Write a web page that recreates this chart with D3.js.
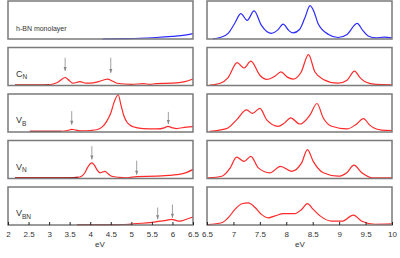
<!DOCTYPE html>
<html>
<head>
<meta charset="utf-8">
<script src="https://cdn.jsdelivr.net/npm/d3@7"></script>
<style>
  body { margin: 0; background: #fff; }
  svg { display: block; font-family: "Liberation Sans", Arial, sans-serif; }
</style>
</head>
<body>
<div id="chart"></div>
<script>
// panel names, top to bottom
const names = ["h-BN monolayer", "C", "V", "V", "V"];
const subs = ["", "N", "B", "N", "BN"];
const colors = ["#2b2bff", "#ff2a2a", "#ff2a2a", "#ff2a2a", "#ff2a2a"];
// the flat start of each low-energy curve is drawn darker, up to this eV
const darkUntil = [0, 3.0, 3.3, 3.7, 5.0];

// left side spectra [eV, relative intensity]
const lowHBN = [[4.3,0],[4.8,0.01],[5.2,0.02],[5.6,0.04],[6.0,0.07],[6.3,0.1],[6.5,0.14]];
const lowCN = [[2.17,0.01],[2.8,0.01],[3.0,0.02],[3.2,0.08],[3.39,0.21],[3.5,0.12],[3.58,0.06],[3.75,0.1],[3.9,0.06],[4.0,0.06],[4.2,0.1],[4.42,0.17],[4.55,0.11],[4.65,0.06],[5.0,0.03],[5.3,0.05],[5.45,0.03],[5.6,0.05],[6.0,0.06],[6.3,0.1],[6.5,0.17]];
const lowVB = [[2.53,0.02],[3.3,0.02],[3.45,0.04],[3.55,0.07],[3.65,0.05],[3.79,0.03],[4.0,0.04],[4.16,0.06],[4.3,0.14],[4.4,0.28],[4.5,0.5],[4.58,0.78],[4.68,0.98],[4.75,0.7],[4.82,0.42],[4.9,0.25],[4.97,0.18],[5.1,0.12],[5.29,0.09],[5.62,0.08],[5.8,0.11],[5.89,0.15],[6.0,0.11],[6.1,0.09],[6.34,0.13],[6.5,0.14]];
const lowVN = [[2.17,0.02],[3.5,0.02],[3.7,0.03],[3.79,0.06],[3.87,0.15],[3.93,0.28],[4.04,0.41],[4.1,0.35],[4.16,0.24],[4.24,0.15],[4.36,0.19],[4.44,0.12],[4.52,0.06],[4.7,0.03],[4.89,0.02],[5.13,0.05],[5.62,0.06],[5.9,0.08],[6.1,0.1],[6.35,0.16],[6.5,0.24]];
const lowVBN = [[3.68,0.01],[4.6,0.01],[5.0,0.02],[5.05,0.03],[5.45,0.06],[5.7,0.1],[5.85,0.12],[5.98,0.15],[6.08,0.12],[6.18,0.1],[6.34,0.15],[6.5,0.21]];

// right side spectra
const highHBN = [[6.61,0],[6.75,0.04],[6.9,0.15],[7.02,0.4],[7.14,0.67],[7.26,0.49],[7.39,0.74],[7.53,0.36],[7.63,0.2],[7.72,0.15],[7.84,0.24],[7.94,0.39],[8.05,0.22],[8.13,0.16],[8.25,0.25],[8.35,0.55],[8.45,0.88],[8.53,0.7],[8.6,0.41],[8.8,0.12],[8.98,0.04],[9.15,0.12],[9.34,0.41],[9.45,0.22],[9.55,0.08],[9.7,0.03],[9.85,0.05],[10,0.03]];
const highCN = [[6.55,0.01],[6.75,0.06],[6.9,0.21],[7.07,0.6],[7.2,0.46],[7.33,0.64],[7.5,0.27],[7.63,0.16],[7.78,0.24],[7.9,0.36],[8.02,0.22],[8.13,0.17],[8.28,0.35],[8.42,0.81],[8.54,0.36],[8.7,0.16],[8.98,0.06],[9.15,0.14],[9.29,0.38],[9.4,0.2],[9.49,0.1],[9.7,0.03],[10,0.02]];
const highVB = [[6.55,0.02],[6.87,0.09],[7.06,0.32],[7.25,0.58],[7.36,0.49],[7.5,0.62],[7.63,0.32],[7.85,0.15],[7.97,0.24],[8.08,0.37],[8.26,0.21],[8.45,0.45],[8.58,0.75],[8.7,0.37],[8.86,0.15],[9.15,0.08],[9.32,0.2],[9.46,0.35],[9.58,0.18],[9.65,0.11],[9.8,0.05],[10,0.04]];
const highVN = [[6.52,0.02],[6.78,0.06],[6.94,0.28],[7.06,0.56],[7.2,0.45],[7.33,0.58],[7.47,0.28],[7.69,0.15],[7.89,0.32],[8.1,0.19],[8.29,0.41],[8.4,0.76],[8.51,0.45],[8.7,0.15],[8.98,0.06],[9.15,0.16],[9.28,0.35],[9.43,0.15],[9.62,0.02],[10,0.02]];
const highVBN = [[6.52,0.01],[6.78,0.06],[6.9,0.19],[7.03,0.41],[7.16,0.56],[7.28,0.58],[7.41,0.46],[7.53,0.28],[7.66,0.19],[7.79,0.24],[7.94,0.3],[8.16,0.3],[8.29,0.41],[8.4,0.56],[8.51,0.41],[8.64,0.24],[8.86,0.1],[9.05,0.1],[9.27,0.26],[9.43,0.1],[9.68,0.02],[10,0.03]];

const lowData = [lowHBN, lowCN, lowVB, lowVN, lowVBN];
const highData = [highHBN, highCN, highVB, highVN, highVBN];

// arrows marking features: [eV, top, bottom] in relative intensity
const arrows = [
  [],
  [[3.39, 0.73, 0.38], [4.5, 0.73, 0.33]],
  [[3.55, 0.55, 0.19], [5.9, 0.53, 0.21]],
  [[4.04, 0.85, 0.5], [5.13, 0.47, 0.1]],
  [[5.64, 0.46, 0.15], [6.0, 0.54, 0.19]]
];

const lowTicks = [2, 2.5, 3, 3.5, 4, 4.5, 5, 5.5, 6, 6.5];
const highTicks = [6.5, 7, 7.5, 8, 8.5, 9, 9.5, 10];

const W = 400, H = 258;
const panelH = 38, step = 46.5, top0 = 1;

const svg = d3.select("#chart").append("svg")
    .attr("width", W).attr("height", H);

const xLow = d3.scaleLinear().domain([2, 6.5]).range([8, 193]);
const xHigh = d3.scaleLinear().domain([6.5, 10]).range([207, 392]);

const line = (x, y) => d3.line()
    .x(d => x(d[0])).y(d => y(d[1]))
    .curve(d3.curveMonotoneX);

for (let i = 0; i < 5; i++) {
  const t = top0 + i * step;
  const y = d3.scaleLinear().domain([0, 1]).range([t + panelH, t]);

  [[xLow, lowData[i]], [xHigh, highData[i]]].forEach(([x, data], side) => {
    const g = svg.append("g");
    g.append("path")
      .datum(data)
      .attr("fill", "none")
      .attr("stroke", colors[i])
      .attr("stroke-width", 1.2)
      .attr("d", line(x, y));

    if (side == 0 && darkUntil[i]) {
      g.append("path")
        .datum(data.filter(d => d[0] <= darkUntil[i]))
        .attr("fill", "none")
        .attr("stroke", "#9a1010")
        .attr("stroke-width", 1.2)
        .attr("d", line(x, y));
    }

    g.append("rect")
      .attr("x", x.range()[0]).attr("y", t)
      .attr("width", x.range()[1] - x.range()[0])
      .attr("height", panelH)
      .attr("fill", "none")
      .attr("stroke", "#7a7a7a")
      .attr("stroke-width", 1.5);
  });

  // label
  const lab = svg.append("text")
    .attr("x", 16)
    .attr("y", i == 0 ? t + 30 : t + 29)
    .attr("font-size", i == 0 ? 7 : 9)
    .attr("fill", "#333")
    .text(names[i]);
  if (subs[i]) {
    lab.append("tspan").attr("dy", 2.5).attr("font-size", 6.5).text(subs[i]);
  }

  // arrows
  arrows[i].forEach(a => {
    const ax = xLow(a[0]);
    svg.append("line")
      .attr("x1", ax).attr("x2", ax)
      .attr("y1", y(a[1])).attr("y2", y(a[2]))
      .attr("stroke", "#888").attr("stroke-width", 0.8);
    svg.append("path")
      .attr("d", `M${ax - 1.6},${y(a[2]) - 4}L${ax},${y(a[2])}L${ax + 1.6},${y(a[2]) - 4}Z`)
      .attr("fill", "#888");
  });

  // bottom axes
  if (i == 4) {
    const base = t + panelH;
    [[xLow, lowTicks, 100], [xHigh, highTicks, 300]].forEach(([x, ticks, mid]) => {
      const ax = svg.append("g")
        .attr("transform", `translate(0,${base})`)
        .call(d3.axisBottom(x).tickValues(ticks).tickSize(-3).tickPadding(6)
              .tickFormat(d => d));
      ax.select(".domain").remove();
      ax.selectAll(".tick line").attr("stroke", "#222");
      ax.selectAll(".tick text")
        .attr("font-size", 8)
        .attr("font-family", "Liberation Sans, Arial, sans-serif")
        .attr("fill", "#333");
      svg.append("text")
        .attr("x", mid).attr("y", 247)
        .attr("text-anchor", "middle")
        .attr("font-size", 8)
        .attr("fill", "#333")
        .text("eV");
    });
  }
}
</script>
</body>
</html>
